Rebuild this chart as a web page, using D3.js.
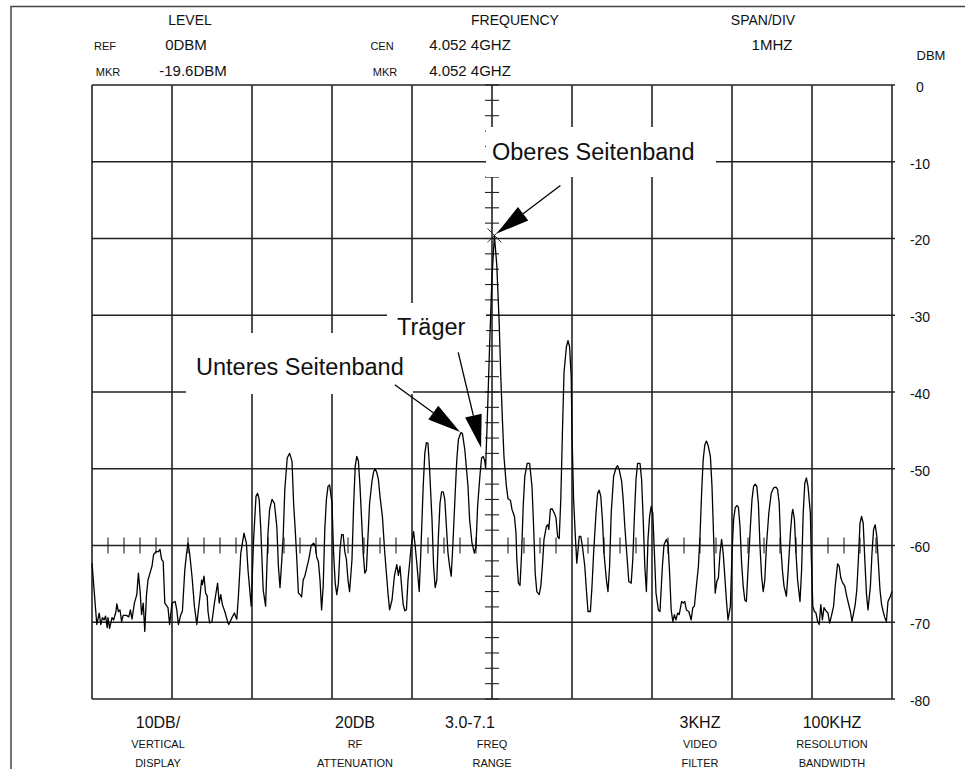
<!DOCTYPE html>
<html>
<head>
<meta charset="utf-8">
<script src="https://cdn.jsdelivr.net/npm/d3@7"></script>
<style>
  html, body { margin: 0; padding: 0; background: #fff; }
  svg { display: block; }
  text { font-family: "Liberation Sans", Arial, Helvetica, sans-serif; fill: #111; }
</style>
</head>
<body>
<svg id="chart" width="965" height="769"></svg>
<script>
// Spectrum analyser trace: frequency offset from centre (MHz) and level (dBm)
const spectrum = [
  [-5.00,-62.3],[-4.94,-70.3],[-4.91,-68.8],[-4.89,-70.3],[-4.87,-69.4],[-4.85,-69.7],[-4.83,-69.2],[-4.81,-70.7],
  [-4.80,-69.4],[-4.78,-70.8],[-4.75,-69.4],[-4.73,-69.7],[-4.70,-68.6],[-4.69,-67.6],[-4.67,-68.6],[-4.65,-68.4],
  [-4.63,-69.9],[-4.61,-69.1],[-4.57,-69.1],[-4.54,-69.3],[-4.52,-68.4],[-4.50,-69.6],[-4.47,-67.5],[-4.44,-66.4],
  [-4.42,-63.6],[-4.40,-65.8],[-4.38,-69.0],[-4.36,-67.5],[-4.34,-71.2],[-4.32,-66.6],[-4.30,-64.5],[-4.27,-63.4],
  [-4.25,-62.7],[-4.23,-61.2],[-4.20,-60.8],[-4.17,-60.8],[-4.15,-60.5],[-4.13,-61.8],[-4.11,-62.1],[-4.09,-67.5],
  [-4.05,-68.1],[-4.03,-70.3],[-4.00,-67.5],[-3.96,-67.3],[-3.94,-68.4],[-3.92,-70.3],[-3.89,-69.0],[-3.87,-68.6],
  [-3.84,-63.2],[-3.82,-61.2],[-3.80,-59.7],[-3.78,-61.0],[-3.75,-64.0],[-3.72,-67.9],[-3.69,-70.3],[-3.67,-68.4],
  [-3.65,-66.6],[-3.63,-64.5],[-3.62,-65.1],[-3.60,-64.0],[-3.58,-66.2],[-3.56,-66.6],[-3.55,-68.6],[-3.53,-70.1],
  [-3.50,-69.9],[-3.47,-67.5],[-3.43,-64.9],[-3.41,-67.5],[-3.39,-66.4],[-3.37,-67.7],[-3.34,-68.6],[-3.30,-70.1],
  [-3.29,-70.3],[-3.25,-69.4],[-3.22,-68.8],[-3.19,-69.6],[-3.17,-66.6],[-3.14,-61.0],[-3.10,-58.4],[-3.07,-59.7],
  [-3.05,-63.2],[-3.01,-67.9],[-2.98,-59.2],[-2.95,-53.6],[-2.93,-53.2],[-2.91,-54.0],[-2.89,-57.9],[-2.86,-65.8],
  [-2.83,-67.9],[-2.80,-58.4],[-2.78,-55.3],[-2.75,-54.0],[-2.72,-54.5],[-2.69,-57.5],[-2.67,-62.7],[-2.65,-65.5],
  [-2.63,-62.3],[-2.61,-58.8],[-2.59,-52.7],[-2.56,-48.6],[-2.53,-48.0],[-2.50,-49.0],[-2.48,-54.5],[-2.46,-57.9],
  [-2.44,-61.8],[-2.42,-66.2],[-2.40,-66.4],[-2.38,-66.7],[-2.36,-64.5],[-2.34,-64.0],[-2.29,-61.8],[-2.26,-60.0],
  [-2.23,-59.7],[-2.21,-60.0],[-2.19,-61.6],[-2.17,-62.1],[-2.15,-64.5],[-2.13,-68.4],[-2.11,-65.3],[-2.09,-57.9],
  [-2.07,-54.0],[-2.05,-52.3],[-2.03,-52.1],[-2.00,-54.5],[-1.98,-61.0],[-1.96,-64.9],[-1.94,-66.4],[-1.92,-64.9],
  [-1.90,-60.5],[-1.88,-58.6],[-1.86,-58.6],[-1.84,-60.8],[-1.82,-61.8],[-1.80,-64.5],[-1.78,-66.0],[-1.75,-61.8],
  [-1.73,-54.9],[-1.71,-49.7],[-1.69,-48.4],[-1.67,-49.0],[-1.65,-52.3],[-1.63,-56.6],[-1.61,-61.0],[-1.59,-63.6],
  [-1.57,-63.2],[-1.55,-58.8],[-1.53,-54.5],[-1.50,-51.6],[-1.48,-50.4],[-1.46,-50.0],[-1.44,-50.5],[-1.42,-51.4],
  [-1.40,-53.6],[-1.37,-56.2],[-1.34,-61.0],[-1.30,-66.2],[-1.28,-68.4],[-1.25,-67.1],[-1.22,-64.0],[-1.19,-62.5],
  [-1.17,-63.9],[-1.15,-62.7],[-1.13,-65.3],[-1.11,-67.7],[-1.09,-68.5],[-1.07,-68.4],[-1.05,-64.5],[-1.01,-60.1],
  [-0.98,-58.2],[-0.96,-60.1],[-0.94,-62.3],[-0.91,-66.0],[-0.89,-61.0],[-0.86,-52.3],[-0.84,-48.0],[-0.82,-46.6],
  [-0.80,-46.7],[-0.78,-50.1],[-0.75,-56.6],[-0.73,-62.7],[-0.71,-65.5],[-0.69,-64.5],[-0.67,-58.8],[-0.65,-54.5],
  [-0.63,-53.0],[-0.61,-53.0],[-0.59,-54.0],[-0.57,-57.5],[-0.55,-61.0],[-0.53,-62.7],[-0.51,-64.0],[-0.49,-60.1],
  [-0.46,-53.2],[-0.44,-48.8],[-0.42,-46.2],[-0.39,-45.3],[-0.37,-45.4],[-0.34,-47.5],[-0.30,-52.3],[-0.28,-56.6],
  [-0.25,-59.7],[-0.22,-61.0],[-0.20,-60.1],[-0.18,-54.9],[-0.15,-50.8],[-0.13,-48.6],[-0.11,-48.4],[-0.09,-49.0],
  [-0.08,-49.9],[-0.06,-44.0],[-0.03,-34.0],[0.00,-25.0],[0.03,-19.6],[0.06,-23.5],[0.09,-31.0],[0.11,-38.0],
  [0.13,-43.6],[0.15,-48.5],[0.18,-52.3],[0.20,-53.9],[0.23,-54.1],[0.25,-55.3],[0.28,-56.2],[0.30,-58.4],
  [0.31,-61.8],[0.33,-64.9],[0.35,-65.2],[0.37,-61.0],[0.39,-54.9],[0.41,-51.0],[0.44,-49.3],[0.47,-49.3],
  [0.50,-52.3],[0.52,-57.5],[0.54,-63.6],[0.56,-66.0],[0.59,-66.4],[0.61,-65.3],[0.63,-62.7],[0.65,-59.2],
  [0.68,-57.5],[0.70,-57.3],[0.71,-57.9],[0.73,-55.3],[0.75,-55.2],[0.78,-55.8],[0.80,-56.4],[0.82,-58.8],
  [0.84,-59.1],[0.86,-54.0],[0.88,-45.4],[0.90,-37.5],[0.93,-34.1],[0.95,-33.3],[0.97,-34.1],[0.99,-38.0],
  [1.00,-45.4],[1.02,-54.0],[1.04,-58.4],[1.06,-62.3],[1.08,-60.1],[1.09,-58.8],[1.11,-58.8],[1.13,-60.1],
  [1.16,-62.7],[1.18,-65.8],[1.20,-68.6],[1.23,-68.6],[1.25,-65.3],[1.27,-61.0],[1.30,-55.8],[1.32,-53.2],
  [1.34,-52.8],[1.36,-53.6],[1.38,-56.6],[1.40,-61.0],[1.43,-64.5],[1.45,-66.0],[1.47,-62.7],[1.49,-55.8],
  [1.52,-51.0],[1.55,-49.9],[1.57,-49.6],[1.59,-50.1],[1.62,-51.6],[1.64,-54.0],[1.66,-57.5],[1.69,-61.8],
  [1.71,-64.7],[1.74,-64.9],[1.76,-61.8],[1.78,-56.2],[1.80,-51.4],[1.82,-49.3],[1.85,-49.3],[1.87,-51.4],
  [1.89,-56.6],[1.91,-62.7],[1.93,-66.0],[1.95,-59.2],[1.97,-56.2],[1.99,-54.9],[2.01,-55.8],[2.03,-61.0],
  [2.05,-66.2],[2.08,-68.4],[2.10,-68.6],[2.13,-62.7],[2.15,-59.9],[2.18,-59.2],[2.20,-59.7],[2.22,-63.6],
  [2.24,-68.4],[2.26,-69.9],[2.28,-69.0],[2.30,-69.7],[2.32,-68.8],[2.34,-69.0],[2.37,-67.3],[2.39,-67.5],
  [2.41,-67.3],[2.43,-68.4],[2.46,-68.6],[2.49,-69.7],[2.51,-68.1],[2.53,-67.9],[2.55,-65.8],[2.58,-62.7],
  [2.60,-58.8],[2.62,-53.2],[2.64,-48.8],[2.66,-46.9],[2.68,-46.4],[2.70,-46.9],[2.73,-48.4],[2.75,-52.3],
  [2.77,-58.8],[2.79,-66.2],[2.81,-64.7],[2.83,-64.2],[2.85,-61.0],[2.87,-59.2],[2.89,-61.0],[2.91,-64.0],
  [2.93,-67.1],[2.95,-69.7],[2.98,-67.9],[3.00,-61.0],[3.02,-56.6],[3.04,-55.1],[3.06,-54.8],[3.08,-55.0],
  [3.10,-57.5],[3.12,-62.3],[3.14,-65.3],[3.16,-67.1],[3.18,-67.3],[3.20,-63.2],[3.23,-57.5],[3.25,-54.0],
  [3.27,-52.3],[3.29,-52.0],[3.31,-52.3],[3.33,-54.5],[3.35,-60.1],[3.37,-64.0],[3.39,-66.0],[3.41,-64.5],
  [3.43,-60.1],[3.46,-55.8],[3.49,-53.2],[3.52,-52.5],[3.55,-52.4],[3.57,-52.7],[3.59,-54.5],[3.61,-60.1],
  [3.63,-63.2],[3.65,-65.3],[3.68,-66.6],[3.70,-63.6],[3.73,-58.4],[3.75,-55.8],[3.76,-55.3],[3.78,-56.6],
  [3.80,-61.0],[3.82,-64.5],[3.85,-67.3],[3.87,-63.2],[3.89,-55.8],[3.91,-51.9],[3.93,-51.2],[3.95,-52.3],
  [3.98,-55.8],[3.99,-61.0],[4.01,-67.9],[4.03,-68.6],[4.05,-68.8],[4.07,-69.9],[4.09,-70.3],[4.11,-67.7],
  [4.13,-69.7],[4.15,-68.1],[4.18,-68.6],[4.20,-68.8],[4.22,-70.1],[4.24,-69.3],[4.27,-67.9],[4.29,-65.3],
  [4.32,-62.4],[4.34,-62.7],[4.36,-64.2],[4.38,-64.8],[4.41,-65.3],[4.43,-66.4],[4.45,-67.3],[4.48,-68.6],
  [4.50,-69.9],[4.52,-68.8],[4.54,-67.7],[4.56,-65.8],[4.58,-61.8],[4.60,-57.1],[4.62,-56.2],[4.64,-57.1],
  [4.66,-61.8],[4.68,-66.2],[4.70,-68.4],[4.73,-65.3],[4.75,-61.0],[4.77,-57.9],[4.79,-57.3],[4.81,-58.8],
  [4.83,-62.3],[4.85,-65.8],[4.87,-67.7],[4.89,-68.6],[4.91,-69.4],[4.93,-69.9],[4.95,-67.3],[4.98,-66.6],
  [5.00,-66.0]
];

// Axis ranges and tick values
const freqDivisions = [-5, -4, -3, -2, -1, 0, 1, 2, 3, 4, 5];   // MHz from centre, 1 MHz/div
const levelTicks = [0, -10, -20, -30, -40, -50, -60, -70, -80]; // dBm, 10 dB/div
const levelUnit = "DBM";

// Marker reading
const markerFreq = 0.03;
const markerLevel = -19.6;

// Annotated points: [label, freq offset MHz, level dBm]
const annotationNames = ["Oberes Seitenband", "Unteres Seitenband", "Träger"];
const annotationFreq = [0.03, -0.39, -0.11];
const annotationLevel = [-19.6, -45.3, -48.4];

// Instrument settings shown above and below the screen
const headerTitles = ["LEVEL", "FREQUENCY", "SPAN/DIV"];
const headerRow1 = [["REF", "0DBM"], ["CEN", "4.052 4GHZ"], ["", "1MHZ"]];
const headerRow2 = [["MKR", "-19.6DBM"], ["MKR", "4.052 4GHZ"]];
const footerValues = ["10DB/", "20DB", "3.0-7.1", "3KHZ", "100KHZ"];
const footerLine1 = ["VERTICAL", "RF", "FREQ", "VIDEO", "RESOLUTION"];
const footerLine2 = ["DISPLAY", "ATTENUATION", "RANGE", "FILTER", "BANDWIDTH"];

// ---------------------------------------------------------------------------
const svg = d3.select("#chart");
const W = 965, H = 769;
const plot = { left: 92, right: 892, top: 85, bottom: 699 };

const x = d3.scaleLinear().domain([-5, 5]).range([plot.left, plot.right]);
const y = d3.scaleLinear().domain([-80, 0]).range([plot.bottom, plot.top]);

svg.append("rect").attr("width", W).attr("height", H).attr("fill", "#fff");

// page frame (top and left rule)
svg.append("path")
  .attr("d", `M11,${H} L11,6.5 L${W},6.5`)
  .attr("fill", "none").attr("stroke", "#444").attr("stroke-width", 1.5);

// graticule
const grid = svg.append("g").attr("stroke", "#222").attr("stroke-width", 1.6).attr("fill", "none");
grid.selectAll("line.v").data(freqDivisions).join("line").attr("class", "v")
  .attr("x1", d => x(d)).attr("x2", d => x(d))
  .attr("y1", plot.top).attr("y2", plot.bottom);
grid.selectAll("line.h").data(levelTicks).join("line").attr("class", "h")
  .attr("x1", plot.left).attr("x2", plot.right + 3)
  .attr("y1", d => y(d)).attr("y2", d => y(d));

// minor ticks on the centre line (every 2 dB) and on the -60 dBm line (every 0.2 MHz)
const minor = svg.append("g").attr("stroke", "#222").attr("stroke-width", 1.1);
const levelMinor = d3.range(-80, 0.01, 2);
minor.selectAll("line.cy").data(levelMinor).join("line").attr("class", "cy")
  .attr("x1", x(0) - 7).attr("x2", x(0) + 7)
  .attr("y1", d => y(d)).attr("y2", d => y(d));
const freqMinor = d3.range(-5, 5.001, 0.2).filter(d => Math.abs(d - Math.round(d)) > 1e-6);
minor.selectAll("line.cx").data(freqMinor).join("line").attr("class", "cx")
  .attr("x1", d => x(d)).attr("x2", d => x(d))
  .attr("y1", y(-60) - 8).attr("y2", y(-60) + 8);

// level scale on the right (plain hyphen as minus, as on the instrument)
const yAxis = d3.axisRight(y).tickValues(levelTicks).tickSize(0).tickPadding(0)
  .tickFormat(d => String(d));
const ya = svg.append("g").attr("transform", `translate(${920},0)`).call(yAxis);
ya.select(".domain").remove();
ya.selectAll("text").attr("x", 0).attr("dy", "0.45em").attr("text-anchor", "middle")
  .style("font-size", "14px").style("font-family", "'Liberation Sans', Arial, sans-serif").attr("fill", "#111");
svg.append("text").attr("x", 931).attr("y", 60).attr("text-anchor", "middle")
  .style("font-size", "13px").text(levelUnit);

// white label panels laid over the graticule
const panels = [
  { x0: 486, x1: 716, y0: 127, y1: 177 },
  { x0: 186, x1: 413, y0: 333, y1: 394 },
  { x0: 387, x1: 486, y0: 303, y1: 348 }
];
svg.append("g").selectAll("rect").data(panels).join("rect")
  .attr("x", d => d.x0).attr("y", d => d.y0)
  .attr("width", d => d.x1 - d.x0).attr("height", d => d.y1 - d.y0)
  .attr("fill", "#fff");

// trace
const line = d3.line().x(d => x(d[0])).y(d => y(d[1]));
svg.append("path").datum(spectrum)
  .attr("d", line)
  .attr("fill", "none").attr("stroke", "#000").attr("stroke-width", 1.3)
  .attr("stroke-linejoin", "round");

// marker cross at the peak
const mx = x(markerFreq), my = y(markerLevel);
svg.append("path")
  .attr("d", `M${mx - 7},${my - 7}L${mx + 7},${my + 7}M${mx - 7},${my + 7}L${mx + 7},${my - 7}`)
  .attr("stroke", "#222").attr("stroke-width", 0.9);

// annotation labels and arrows
const labelPos = [[492, 160], [196, 375], [397, 335]];
const tailOffset = [[66, -50], [-66, -48], [-25, -104]];
const tipGap = [3, 1, 9];
annotationNames.forEach((name, i) => {
  svg.append("text").attr("x", labelPos[i][0]).attr("y", labelPos[i][1])
    .style("font-size", "23.5px").text(name);
  const tx = x(annotationFreq[i]), ty = y(annotationLevel[i]);
  const sx = tx + tailOffset[i][0], sy = ty + tailOffset[i][1];
  const len = Math.hypot(tx - sx, ty - sy);
  const ux = (tx - sx) / len, uy = (ty - sy) / len;
  const px = tx - ux * tipGap[i], py = ty - uy * tipGap[i];
  const headLen = 33, half = 8.5;
  const bx = px - ux * headLen, by = py - uy * headLen;
  svg.append("line").attr("x1", sx).attr("y1", sy).attr("x2", bx).attr("y2", by)
    .attr("stroke", "#000").attr("stroke-width", 1.3);
  svg.append("path")
    .attr("d", `M${px},${py}L${bx - uy * half},${by + ux * half}L${bx + uy * half},${by - ux * half}Z`)
    .attr("fill", "#000");
});

// header block
function txt(xp, yp, s, size, anchor) {
  return svg.append("text").attr("x", xp).attr("y", yp).attr("text-anchor", anchor || "middle")
    .style("font-size", size + "px").text(s);
}
const titleX = [190, 515, 763];
headerTitles.forEach((t, i) => txt(titleX[i], 25, t, 14));
const smallX = [105, 382];
const valueX = [186, 470, 772];
headerRow1.forEach((p, i) => {
  if (p[0]) txt(smallX[i], 50, p[0], 11);
  txt(valueX[i], 50, p[1], 15);
});
headerRow2.forEach((p, i) => {
  txt(smallX[i] + 3, 76, p[0], 11);
  txt(i === 0 ? 193 : 470, 76, p[1], 15);
});

// footer block
const footX = [158, 355, 470, 700, 832];
const footX2 = [158, 355, 492, 700, 832];
footerValues.forEach((t, i) => txt(footX[i], 728, t, 16));
footerLine1.forEach((t, i) => txt(footX2[i], 748, t, 11));
footerLine2.forEach((t, i) => txt(footX2[i], 767, t, 11));
</script>
</body>
</html>
